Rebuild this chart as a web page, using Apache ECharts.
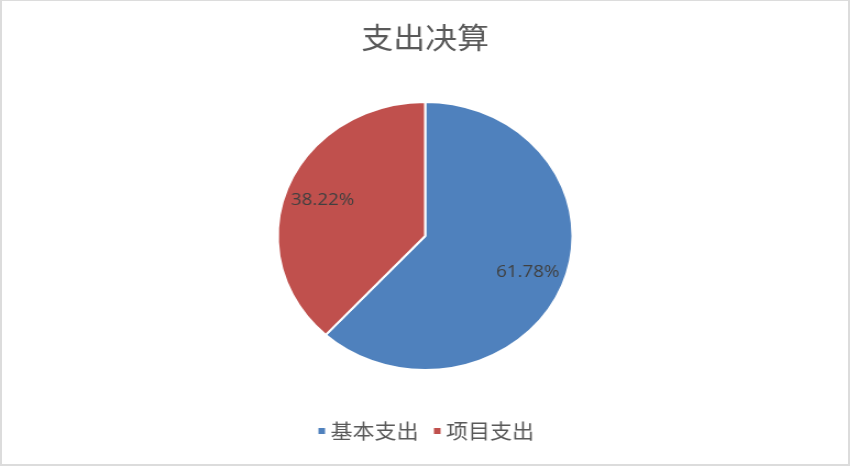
<!DOCTYPE html>
<html>
<head>
<meta charset="utf-8">
<script src="https://cdn.jsdelivr.net/npm/echarts@6/dist/echarts.min.js"></script>
<style>
  html, body { margin: 0; padding: 0; background: #fff; overflow: hidden; }
  #frame { position: absolute; left: 0; top: 0; width: 850px; height: 466px; box-sizing: border-box; border: 2px solid #dcdcdc; border-top-width: 1px; z-index: 2; pointer-events: none; }
  /* the reference picture is stretched sideways, so the chart is drawn narrower and scaled */
  #chart_wrap { position: absolute; left: 0; top: 0; width: 773px; height: 466px; transform: scaleX(1.1); transform-origin: 0 0; }
</style>
</head>
<body>
<div id="frame"></div>
<div id="chart_wrap"></div>
<script>
var categories = ['基本支出', '项目支出'];
var shares = [61.78, 38.22];
var colors = ['#4F81BD', '#C0504D'];

var chart_wrap = document.getElementById("chart_wrap");
var chart = echarts.init(chart_wrap);

var buildData = function (extra) {
    var res = [];
    for (var i = 0; i < categories.length; i++) {
        var item = { name: categories[i], value: shares[i] };
        if (extra) item.itemStyle = extra;
        res.push(item);
    }
    return res;
};

var option = {
    backgroundColor: '#fff',
    animation: false,
    color: colors,
    textStyle: { fontFamily: '"Noto Sans CJK SC", "Noto Sans", sans-serif' },
    title: {
        text: '支出决算',
        left: 'center',
        top: 18,
        textStyle: {
            color: '#595959',
            fontSize: 29,
            fontWeight: 'normal',
            fontFamily: '"Noto Sans CJK SC", sans-serif'
        }
    },
    legend: {
        data: categories,
        bottom: 20,
        left: 'center',
        icon: 'rect',
        itemWidth: 8,
        itemHeight: 8,
        itemGap: 12,
        textStyle: {
            color: '#595959',
            fontSize: 20,
            padding: [0, 0, 0, -1]
        }
    },
    series: [
        {
            name: '支出决算',
            type: 'pie',
            center: ['50%', 236],
            radius: [0, 134],
            startAngle: 90,
            clockwise: true,
            silent: true,
            itemStyle: { borderColor: '#fff', borderWidth: 2 },
            label: { show: false },
            labelLine: { show: false },
            data: buildData()
        },
        {
            // label ring only: places the percentages further out than the middle of the radius
            name: '标签',
            type: 'pie',
            center: ['50%', 236],
            radius: [60, 134],
            startAngle: 90,
            clockwise: true,
            silent: true,
            label: {
                show: true,
                position: 'inside',
                color: '#404040',
                fontSize: 17,
                fontFamily: '"Open Sans", "Liberation Sans", sans-serif',
                formatter: function (p) { return p.value.toFixed(2) + '%'; }
            },
            labelLine: { show: false },
            data: buildData({ color: 'rgba(0,0,0,0)', borderWidth: 0 })
        }
    ]
};
chart.setOption(option, true);
</script>
</body>
</html>
